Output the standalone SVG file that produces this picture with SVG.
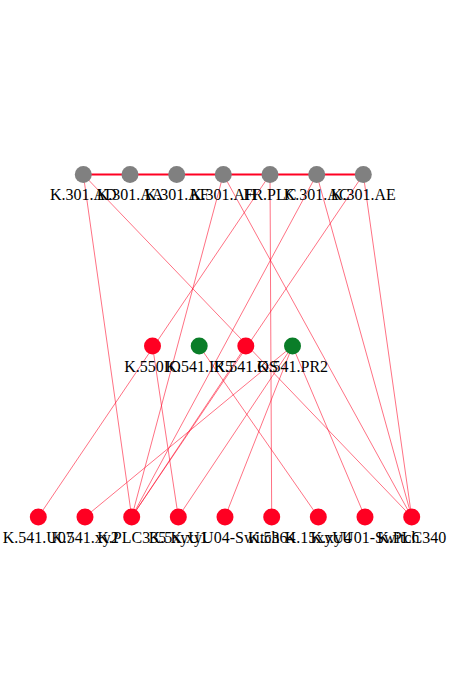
<svg xmlns="http://www.w3.org/2000/svg" width="450" height="675" viewBox="0 0 450 675">
<style>
.e{stroke:#ff0022;stroke-width:0.8;stroke-opacity:0.7;fill:none}
.c{stroke:#ff0022;stroke-width:2;fill:none}
.g{fill:#808080}
.r{fill:#ff0022}
.gr{fill:#0a7d28}
text{font-family:"Liberation Serif","Times New Roman",serif;font-size:16px;fill:#000;text-anchor:middle}
</style>
<rect width="450" height="675" fill="#fff"/>
<g id="edges">
<line class="c" x1="83.3" y1="174.5" x2="363.3" y2="174.5"/>
<line class="e" x1="83.3" y1="174.5" x2="131.7" y2="517"/>
<line class="e" x1="83.3" y1="174.5" x2="411.7" y2="517"/>
<line class="e" x1="223.3" y1="174.5" x2="131.7" y2="517"/>
<line class="e" x1="223.3" y1="174.5" x2="411.7" y2="517"/>
<line class="e" x1="270" y1="174.5" x2="271.7" y2="517"/>
<line class="e" x1="270" y1="174.5" x2="38.3" y2="517"/>
<line class="e" x1="316.7" y1="174.5" x2="131.7" y2="517"/>
<line class="e" x1="316.7" y1="174.5" x2="411.7" y2="517"/>
<line class="e" x1="363.3" y1="174.5" x2="411.7" y2="517"/>
<line class="e" x1="363.3" y1="174.5" x2="131.7" y2="517"/>
<line class="e" x1="152.5" y1="346" x2="178.3" y2="517"/>
<line class="e" x1="199.2" y1="346" x2="318.3" y2="517"/>
<line class="e" x1="245.8" y1="346" x2="131.7" y2="517"/>
<line class="e" x1="292.5" y1="346" x2="85" y2="517"/>
<line class="e" x1="292.5" y1="346" x2="178.3" y2="517"/>
<line class="e" x1="292.5" y1="346" x2="225" y2="517"/>
<line class="e" x1="292.5" y1="346" x2="365" y2="517"/>
</g>
<g id="t1"><circle class="g" cx="83.3" cy="174.5" r="8.5"/><text x="83.3" y="200">K.301.AD</text></g>
<g id="t2"><circle class="g" cx="130" cy="174.5" r="8.5"/><text x="130" y="200">K.301.AA</text></g>
<g id="t3"><circle class="g" cx="176.7" cy="174.5" r="8.5"/><text x="176.7" y="200">K.301.AF</text></g>
<g id="t4"><circle class="g" cx="223.3" cy="174.5" r="8.5"/><text x="223.3" y="200">K.301.AH</text></g>
<g id="t5"><circle class="g" cx="270" cy="174.5" r="8.5"/><text x="270" y="200">FR.PLC</text></g>
<g id="t6"><circle class="g" cx="316.7" cy="174.5" r="8.5"/><text x="316.7" y="200">K.301.AC</text></g>
<g id="t7"><circle class="g" cx="363.3" cy="174.5" r="8.5"/><text x="363.3" y="200">K.301.AE</text></g>
<g id="m1"><circle class="r" cx="152.5" cy="346" r="8.5"/><text x="152.5" y="372">K.550IO</text></g>
<g id="m2"><circle class="gr" cx="199.2" cy="346" r="8.5"/><text x="199.2" y="372">K.541.IR5</text></g>
<g id="m3"><circle class="r" cx="245.8" cy="346" r="8.5"/><text x="245.8" y="372">K.541.OS</text></g>
<g id="m4"><circle class="gr" cx="292.5" cy="346" r="8.5"/><text x="292.5" y="372">K.541.PR2</text></g>
<g id="b1"><circle class="r" cx="38.3" cy="517" r="8.5"/><text x="38.3" y="543">K.541.U07</text></g>
<g id="b2"><circle class="r" cx="85" cy="517" r="8.5"/><text x="85" y="543">K.541.xy2</text></g>
<g id="b3"><circle class="r" cx="131.7" cy="517" r="8.5"/><text x="131.7" y="543">K.PLC335</text></g>
<g id="b4"><circle class="r" cx="178.3" cy="517" r="8.5"/><text x="178.3" y="543">K.5xyU1</text></g>
<g id="b5"><circle class="r" cx="225" cy="517" r="8.5"/><text x="225" y="543">K.xyU04-Switch</text></g>
<g id="b6"><circle class="r" cx="271.7" cy="517" r="8.5"/><text x="271.7" y="543">K.5364</text></g>
<g id="b7"><circle class="r" cx="318.3" cy="517" r="8.5"/><text x="318.3" y="543">K.15xyU4</text></g>
<g id="b8"><circle class="r" cx="365" cy="517" r="8.5"/><text x="365" y="543">K.xyU01-Switch</text></g>
<g id="b9"><circle class="r" cx="411.7" cy="517" r="8.5"/><text x="411.7" y="543">K.PLC340</text></g>
</svg>
